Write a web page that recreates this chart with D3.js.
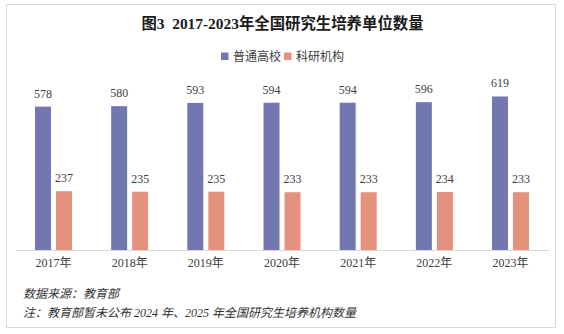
<!DOCTYPE html>
<html><head><meta charset="utf-8">
<script src="https://cdn.jsdelivr.net/npm/d3@7"></script>
<style>
html,body{margin:0;padding:0;background:#fff;}
svg{display:block;}
text{font-family:"Liberation Serif","Noto Sans CJK SC",serif;white-space:pre;}
</style></head>
<body>
<svg id="c" width="564" height="334"></svg>
<script>
const years = ["2017年","2018年","2019年","2020年","2021年","2022年","2023年"];
const seriesNames = ["普通高校","科研机构"];
const universities = [578,580,593,594,594,596,619];
const institutes = [237,235,235,233,233,234,233];
const colors = ["#7377b0","#e4917e"];
const title = "图3\u00a0\u00a02017-2023年全国研究生培养单位数量";
const source = "数据来源：教育部";
const note = "注：教育部暂未公布 2024 年、2025 年全国研究生培养机构数量";

const svg = d3.select("#c");
svg.append("rect").attr("x",6.5).attr("y",4.5).attr("width",549).attr("height",323)
  .attr("fill","#fff").attr("stroke","#d9d9d9");

const x0 = d3.scaleBand().domain(years).range([15.4,548.6]).padding(0);
const groupW = 37;
const x1 = d3.scaleBand().domain(seriesNames).range([0,groupW]).paddingInner(5/21).paddingOuter(0);
const y = d3.scaleLinear().domain([0,700]).range([250,76.4]);

const data = years.map((yr,i)=>({year:yr, vals:[universities[i],institutes[i]]}));

const g = svg.append("g");
const grp = g.selectAll("g.grp").data(data).join("g")
  .attr("transform",d=>`translate(${x0(d.year)+(x0.bandwidth()-groupW)/2},0)`);
grp.selectAll("rect").data(d=>d.vals.map((v,j)=>({s:seriesNames[j],v,j}))).join("rect")
  .attr("x",d=>x1(d.s)).attr("width",x1.bandwidth())
  .attr("y",d=>y(d.v)).attr("height",d=>y(0)-y(d.v))
  .attr("fill",d=>colors[d.j]);
grp.selectAll("text").data(d=>d.vals.map((v,j)=>({s:seriesNames[j],v,j}))).join("text")
  .attr("x",d=>x1(d.s)+x1.bandwidth()/2).attr("y",d=>y(d.v)-9)
  .attr("text-anchor","middle").attr("font-size",12).attr("fill","#404040")
  .text(d=>d.v);

// x axis
const xAxis = d3.axisBottom(x0).tickSize(0).tickPadding(8);
const ax = svg.append("g").attr("transform",`translate(0,${y(0)})`).call(xAxis);
ax.select(".domain").attr("stroke","#d9d9d9");
ax.selectAll("text").attr("font-size",12).attr("fill","#404040")
  .attr("font-family","\"Liberation Serif\",\"Noto Sans CJK SC\",serif");

// title
svg.append("text").attr("x",282.5).attr("y",29).attr("text-anchor","middle")
  .attr("font-size",15.4).attr("font-weight","bold").attr("fill","#1a1a1a").text(title);

// legend
const leg = svg.append("g").attr("transform","translate(221,56)");
const lx = [0,63];
seriesNames.forEach((s,i)=>{
  leg.append("rect").attr("x",lx[i]).attr("y",-3.5).attr("width",7.5).attr("height",7.5).attr("fill",colors[i]);
  leg.append("text").attr("x",lx[i]+12).attr("y",4.5).attr("font-size",12).attr("fill","#404040").text(s);
});

// footer
svg.append("text").attr("x",23).attr("y",297.5).attr("font-size",12).attr("font-style","italic")
  .attr("fill","#333").text(source);
svg.append("text").attr("x",23).attr("y",317).attr("font-size",12).attr("font-style","italic")
  .attr("fill","#333").text(note);
</script>
</body></html>
